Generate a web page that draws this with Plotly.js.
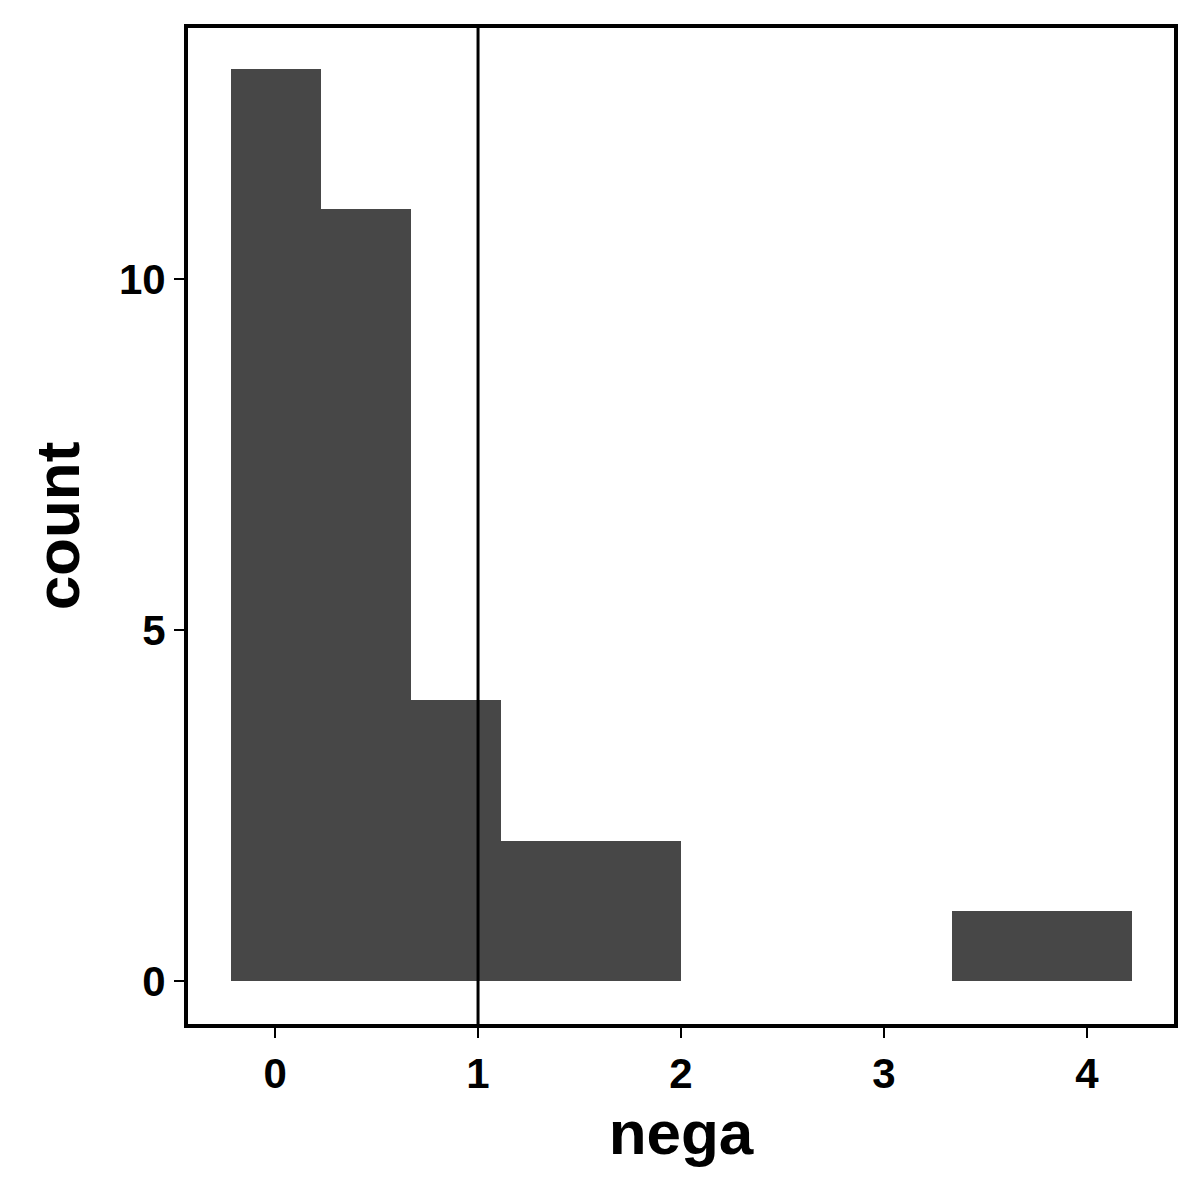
<!DOCTYPE html>
<html>
<head>
<meta charset="utf-8">
<script src="https://cdn.plot.ly/plotly-3.0.1.min.js"></script>
<style>body{margin:0}</style>
</head>
<body>
<div id="chart" style="width:1200px;height:1200px"></div>
<script>
// histogram of nega, 10 bins
var binCenters = [0.005, 0.449, 0.892, 1.335, 1.778, 2.222, 2.665, 3.108, 3.557, 4.0];
var counts = [13, 11, 4, 2, 2, 0, 0, 0, 1, 1];
var binWidth = 0.4435;
var xTicks = [0, 1, 2, 3, 4];
var yTicks = [0, 5, 10];
var cutoff = 1;

var trace = {
  type: 'bar',
  x: binCenters,
  y: counts,
  width: binWidth,
  marker: {color: '#474747', line: {width: 0}},
  hoverinfo: 'x+y'
};

var axisFont = {family: 'Liberation Sans, Arial', size: 42, color: '#000', weight: 'bold'};

var layout = {
  width: 1200, height: 1200,
  margin: {l: 188, r: 26, t: 28, b: 176},
  paper_bgcolor: '#fff', plot_bgcolor: '#fff',
  showlegend: false,
  bargap: 0,
  xaxis: {
    range: [-0.429, 4.429], tickvals: xTicks, showgrid: false, zeroline: false,
    ticks: 'outside', ticklen: 10, tickwidth: 2, tickcolor: '#000',
    tickfont: axisFont, mirror: true, showline: true, linewidth: 4, linecolor: '#000',
    title: {text: 'nega', font: {family: 'Liberation Sans, Arial', size: 62, color: '#000', weight: 'bold'}, standoff: 15}
  },
  yaxis: {
    range: [-0.61, 13.58], tickvals: yTicks, showgrid: false, zeroline: false,
    ticks: 'outside', ticklen: 10, tickwidth: 2, tickcolor: '#000',
    tickfont: axisFont, mirror: true, showline: true, linewidth: 4, linecolor: '#000',
    title: {text: 'count', font: {family: 'Liberation Sans, Arial', size: 62, color: '#000', weight: 'bold'}, standoff: 20}
  },
  shapes: [{
    type: 'line', xref: 'x', yref: 'paper', x0: cutoff, x1: cutoff, y0: 0, y1: 1,
    line: {color: '#000', width: 3}
  }]
};

Plotly.newPlot('chart', [trace], layout, {displayModeBar: false});
</script>
</body>
</html>
